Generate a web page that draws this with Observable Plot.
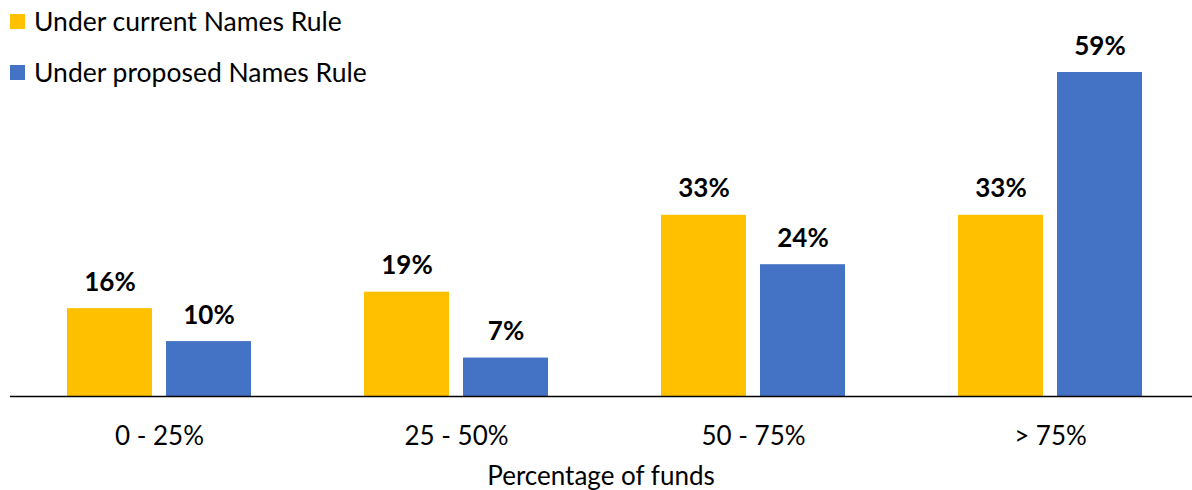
<!DOCTYPE html>
<html>
<head>
<meta charset="utf-8">
<script src="https://cdn.jsdelivr.net/npm/d3@7"></script>
<script src="https://cdn.jsdelivr.net/npm/@observablehq/plot@0.6"></script>
<style>
  html, body { margin: 0; padding: 0; background: #fff; }
  #wrap { position: relative; width: 1192px; height: 490px; font-family: Lato, "Open Sans", sans-serif; }
  #legend { position: absolute; left: 10px; top: 0; font-size: 26.5px; color: #000; }
  .item { position: absolute; left: 0; white-space: nowrap; display: flex; align-items: center; height: 30px; }
  .sw { width: 15px; height: 15px; margin-right: 9px; flex: none; }
  #caption { position: absolute; left: 10px; width: 1182px; top: 460px; height: 30px; line-height: 30px; text-align: center; font-size: 26px; color: #000; }
</style>
</head>
<body>
<div id="wrap">
  <div id="chart"></div>
  <div id="legend"></div>
  <div id="caption"></div>
</div>
<script>
const categories = ["0 - 25%", "25 - 50%", "50 - 75%", "> 75%"];
const seriesNames = ["Under current Names Rule", "Under proposed Names Rule"];
const currentValues = [16, 19, 33, 33];
const proposedValues = [10, 7, 24, 59];
const seriesColors = ["#FFC000", "#4472C4"];
const axisTitle = "Percentage of funds";

const current = categories.map((c, i) => ({category: c, value: currentValues[i]}));
const proposed = categories.map((c, i) => ({category: c, value: proposedValues[i]}));

const plot = Plot.plot({
  width: 1192,
  height: 460,
  marginLeft: 10,
  marginRight: 0,
  marginTop: 72,
  marginBottom: 64,
  style: {fontFamily: "Lato, 'Open Sans', sans-serif", background: "#fff"},
  x: {domain: categories, paddingInner: 0.3266, paddingOuter: 0.1532, align: 0.5385, round: false, label: null},
  y: {domain: [0, 59], axis: null},
  marks: [
    Plot.barY(current, {x: "category", y: "value", fill: seriesColors[0], insetLeft: 8, insetRight: 107}),
    Plot.barY(proposed, {x: "category", y: "value", fill: seriesColors[1], insetLeft: 107, insetRight: 8}),
    Plot.text(current, {x: "category", y: "value", text: d => d.value + "%", dx: -49.5, dy: -18, lineAnchor: "bottom", fontSize: 26, fontWeight: "bold", fill: "#000"}),
    Plot.text(proposed, {x: "category", y: "value", text: d => d.value + "%", dx: 49.5, dy: -18, lineAnchor: "bottom", fontSize: 26, fontWeight: "bold", fill: "#000"}),
    Plot.ruleY([0], {stroke: "#000", strokeWidth: 1.5}),
    Plot.axisX({tickSize: 0, tickPadding: 30, fontSize: 26, label: null, fill: "#000"})
  ]
});
document.getElementById("chart").appendChild(plot);

const legend = document.getElementById("legend");
seriesNames.forEach((name, i) => {
  const item = document.createElement("div");
  item.className = "item";
  item.style.top = (i === 0 ? 6 : 57) + "px";
  const sw = document.createElement("span");
  sw.className = "sw";
  sw.style.background = seriesColors[i];
  const t = document.createElement("span");
  t.textContent = name;
  item.appendChild(sw);
  item.appendChild(t);
  legend.appendChild(item);
});
document.getElementById("caption").textContent = axisTitle;
</script>
</body>
</html>
